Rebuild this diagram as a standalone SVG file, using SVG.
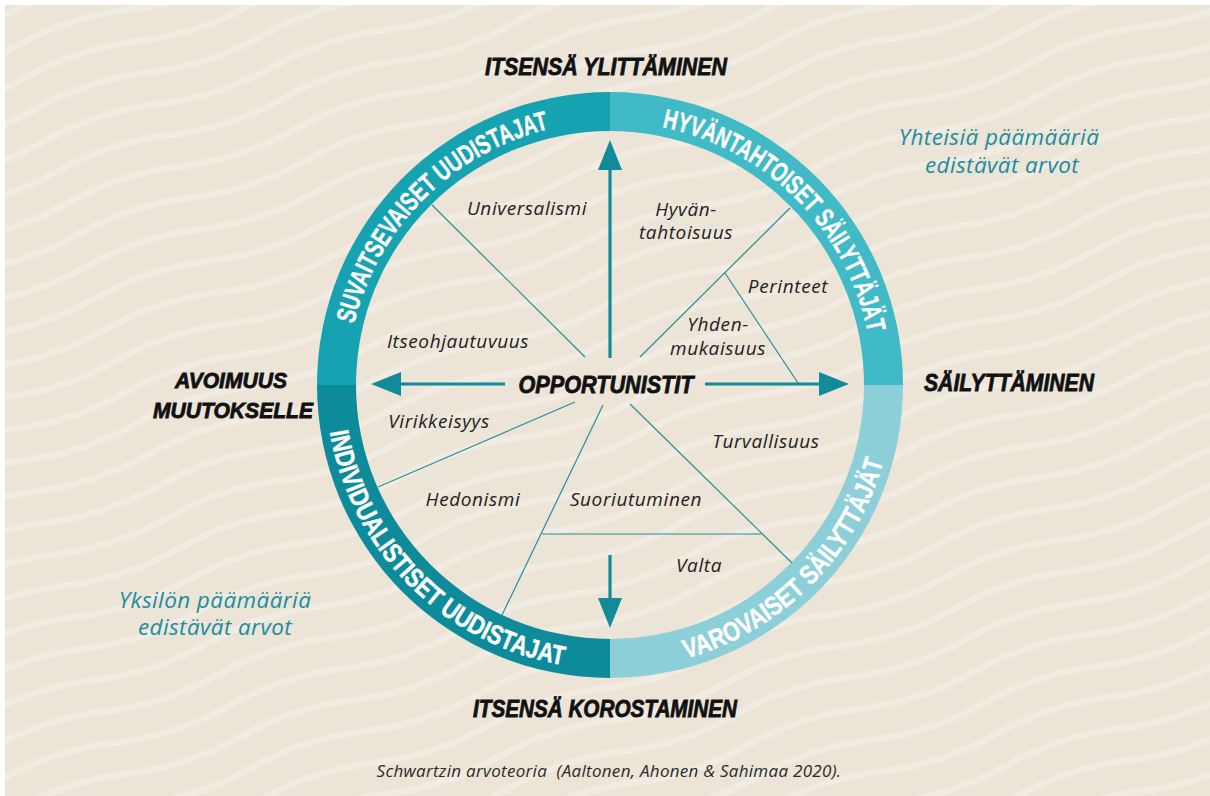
<svg xmlns="http://www.w3.org/2000/svg" width="1210" height="796" viewBox="0 0 1210 796">
  <style>
    .value { font-family: "Open Sans", "Noto Sans", sans-serif; font-style: italic; font-size: 19px; letter-spacing: 0.6px; fill: #222; text-anchor: middle; }
    .axis { font-family: "Liberation Sans", Arial, sans-serif; font-style: italic; font-weight: bold; fill: #111; stroke: #111; stroke-width: 0.8; text-anchor: middle; }
    .goal { font-family: "Open Sans", "Noto Sans", sans-serif; font-style: italic; font-size: 22.5px; letter-spacing: 0.4px; fill: #1b8d9d; text-anchor: middle; }
    .ringtext { font-family: "Liberation Sans", Arial, sans-serif; font-weight: bold; font-size: 27px; fill: #fff; stroke: #fff; stroke-width: 0.4; text-anchor: middle; }
    .caption { font-family: "Open Sans", "Noto Sans", sans-serif; font-style: italic; font-size: 17px; letter-spacing: 0.3px; fill: #2a2a2a; text-anchor: middle; }
    .divider { stroke: #2b8c9b; stroke-width: 1.2; fill: none; }
    .arrow { stroke: #138a9a; stroke-width: 3.2; fill: none; marker-end: url(#head); }
  </style>
  <defs>
    <pattern id="waves" width="240" height="33" patternUnits="userSpaceOnUse" patternTransform="rotate(-18)">
      <rect width="240" height="33" fill="#ebe4d7"/>
      <path d="M0 16 Q60 4 120 16 T240 16" fill="none" stroke="#f1ebe1" stroke-width="7"/>
    </pattern>
    <marker id="head" markerUnits="userSpaceOnUse" markerWidth="30" markerHeight="24" refX="2" refY="12" orient="auto">
      <path d="M0 0 L30 12 L0 24 Z" fill="#138a9a"/>
    </marker>
    <!-- baselines for the curved ring labels -->
    <path id="arcTL" d="M347 385 A263 263 0 0 1 610 122"/>
    <path id="arcTR" d="M610 122 A263 263 0 0 1 873 385"/>
    <path id="arcBL" d="M326 385 A284 284 0 0 0 610 669"/>
    <path id="arcBR" d="M610 669 A284 284 0 0 0 894 385"/>
  </defs>

  <!-- backdrop -->
  <rect x="0" y="0" width="1210" height="796" fill="#ffffff"/>
  <rect x="5" y="5" width="1205" height="791" fill="url(#waves)"/>

  <!-- ring quadrants -->
  <g id="suvaitsevaiset-uudistajat">
    <path d="M317 385 A293 293 0 0 1 610 92 L610 131 A254 254 0 0 0 356 385 Z" fill="#17a2b2"/>
    <text class="ringtext"><textPath href="#arcTL" startOffset="50%" textLength="290" lengthAdjust="spacingAndGlyphs">SUVAITSEVAISET UUDISTAJAT</textPath></text>
  </g>
  <g id="hyvantahtoiset-sailyttajat">
    <path d="M610 92 A293 293 0 0 1 903 385 L864 385 A254 254 0 0 0 610 131 Z" fill="#3fbac6"/>
    <text class="ringtext"><textPath href="#arcTR" startOffset="50%" textLength="308" lengthAdjust="spacingAndGlyphs">HYVÄNTAHTOISET SÄILYTTÄJÄT</textPath></text>
  </g>
  <g id="varovaiset-sailyttajat">
    <path d="M903 385 A293 293 0 0 1 610 678 L610 639 A254 254 0 0 0 864 385 Z" fill="#8dcfd9"/>
    <text class="ringtext"><textPath href="#arcBR" startOffset="50%" textLength="292" lengthAdjust="spacingAndGlyphs">VAROVAISET SÄILYTTÄJÄT</textPath></text>
  </g>
  <g id="individualistiset-uudistajat">
    <path d="M610 678 A293 293 0 0 1 317 385 L356 385 A254 254 0 0 0 610 639 Z" fill="#0d8b9b"/>
    <text class="ringtext"><textPath href="#arcBL" startOffset="50%" textLength="352" lengthAdjust="spacingAndGlyphs">INDIVIDUALISTISET UUDISTAJAT</textPath></text>
  </g>

  <!-- connectors: axis arrows and sector dividers -->
  <g id="connectors">
    <line class="arrow" x1="610" y1="358" x2="610" y2="168"/>
    <line class="arrow" x1="505" y1="384" x2="399" y2="384"/>
    <line class="arrow" x1="705" y1="384" x2="821" y2="384"/>
    <line class="arrow" x1="610" y1="555" x2="610" y2="600"/>

    <line class="divider" x1="585" y1="357" x2="432" y2="205"/>
    <line class="divider" x1="640" y1="357" x2="790" y2="208"/>
    <line class="divider" x1="725" y1="273" x2="798" y2="383"/>
    <line class="divider" x1="575" y1="402" x2="378" y2="487"/>
    <line class="divider" x1="603" y1="405" x2="502" y2="615"/>
    <line class="divider" x1="542" y1="534" x2="762" y2="534"/>
    <line class="divider" x1="630" y1="404" x2="792" y2="563"/>
  </g>

  <!-- value sectors -->
  <g id="universalismi"><text class="value" x="527" y="215">Universalismi</text></g>
  <g id="hyvantahtoisuus"><text class="value" x="686" y="216">Hyvän-</text><text class="value" x="686" y="239">tahtoisuus</text></g>
  <g id="perinteet"><text class="value" x="788" y="293">Perinteet</text></g>
  <g id="yhdenmukaisuus"><text class="value" x="718" y="331">Yhden-</text><text class="value" x="718" y="355">mukaisuus</text></g>
  <g id="itseohjautuvuus"><text class="value" x="458" y="348">Itseohjautuvuus</text></g>
  <g id="virikkeisyys"><text class="value" x="439" y="428">Virikkeisyys</text></g>
  <g id="hedonismi"><text class="value" x="473" y="506">Hedonismi</text></g>
  <g id="suoriutuminen"><text class="value" x="636" y="506">Suoriutuminen</text></g>
  <g id="turvallisuus"><text class="value" x="766" y="448">Turvallisuus</text></g>
  <g id="valta"><text class="value" x="699" y="572">Valta</text></g>

  <!-- centre and axis poles -->
  <g id="opportunistit"><text class="axis" x="606" y="393" font-size="24" textLength="175" lengthAdjust="spacingAndGlyphs">OPPORTUNISTIT</text></g>
  <g id="itsensa-ylittaminen"><text class="axis" x="606" y="75" font-size="24" textLength="242" lengthAdjust="spacingAndGlyphs">ITSENSÄ YLITTÄMINEN</text></g>
  <g id="itsensa-korostaminen"><text class="axis" x="605" y="717" font-size="23" textLength="264" lengthAdjust="spacingAndGlyphs">ITSENSÄ KOROSTAMINEN</text></g>
  <g id="avoimuus-muutokselle">
    <text class="axis" x="231" y="388" font-size="22" textLength="112" lengthAdjust="spacingAndGlyphs">AVOIMUUS</text>
    <text class="axis" x="233" y="418" font-size="22" textLength="160" lengthAdjust="spacingAndGlyphs">MUUTOKSELLE</text>
  </g>
  <g id="sailyttaminen"><text class="axis" x="1009" y="391" font-size="24" textLength="170" lengthAdjust="spacingAndGlyphs">SÄILYTTÄMINEN</text></g>

  <!-- goal annotations -->
  <g id="yhteisia-paamaaria">
    <text class="goal" x="999" y="145">Yhteisiä päämääriä</text>
    <text class="goal" x="1002" y="173">edistävät arvot</text>
  </g>
  <g id="yksilon-paamaaria">
    <text class="goal" x="215" y="608">Yksilön päämääriä</text>
    <text class="goal" x="215" y="635">edistävät arvot</text>
  </g>

  <text class="caption" x="609" y="777" xml:space="preserve">Schwartzin arvoteoria  (Aaltonen, Ahonen &amp; Sahimaa 2020).</text>
</svg>
